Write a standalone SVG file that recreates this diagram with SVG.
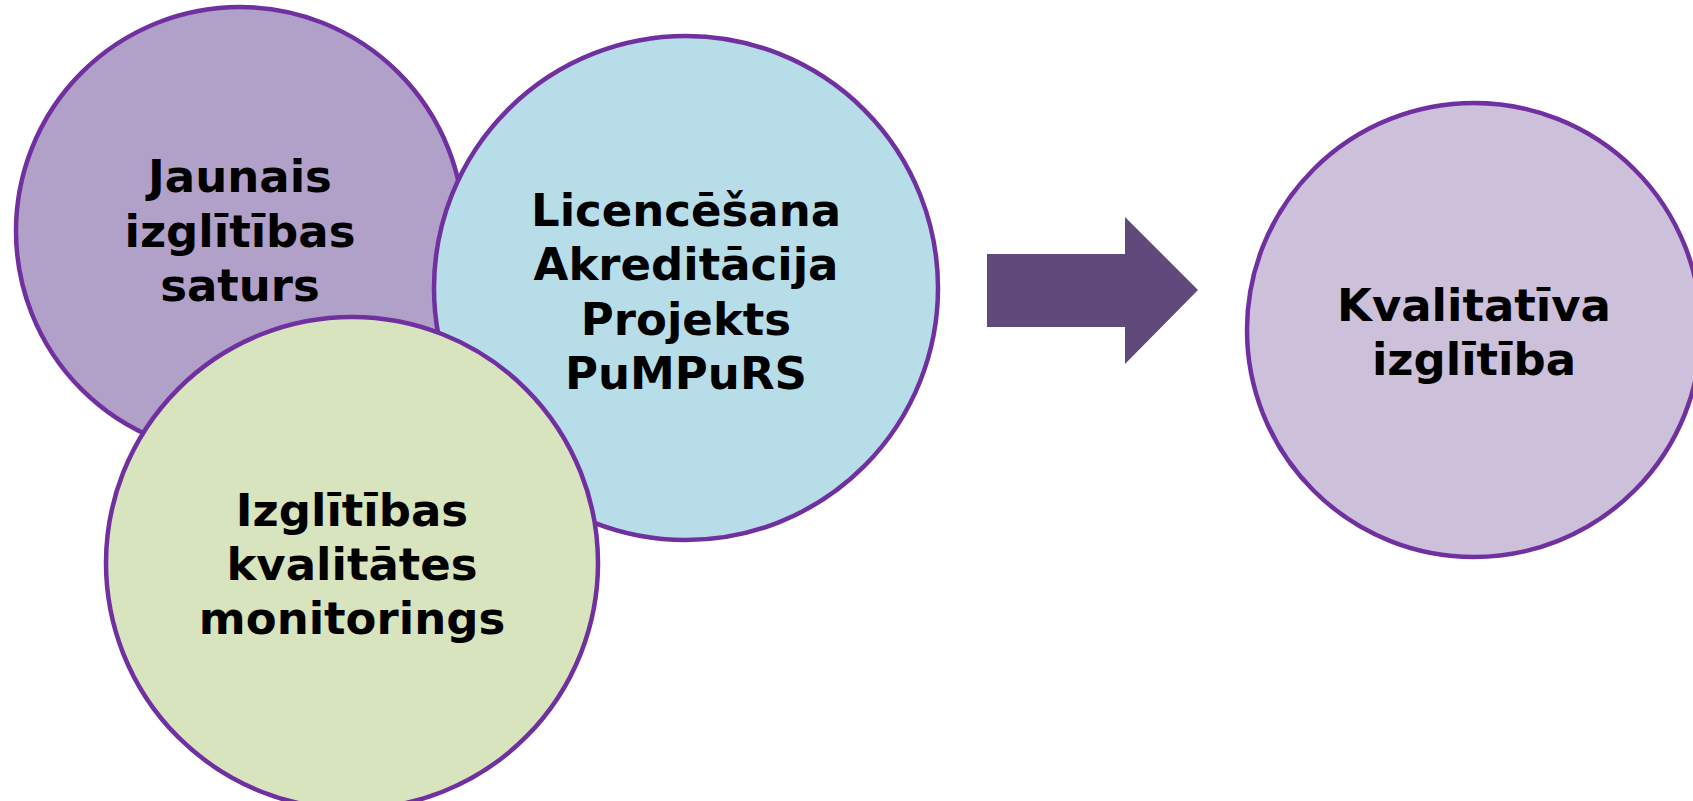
<svg xmlns="http://www.w3.org/2000/svg" width="1693" height="801" viewBox="0 0 1693 801">
<style>
.c{stroke:#7030a0;stroke-width:4.5}
.t{font-family:"DejaVu Sans",Verdana,sans-serif;font-weight:bold;font-size:45px;fill:#000;text-anchor:middle}
</style>
<rect width="1693" height="801" fill="#fff"/>
<g id="node-jaunais">
<circle class="c" cx="240" cy="231" r="224" fill="#b1a0c7"/>
<text class="t" x="240" y="192">Jaunais</text>
<text class="t" x="240" y="247">izglītības</text>
<text class="t" x="240" y="301">saturs</text>
</g>
<g id="node-licencesana">
<circle class="c" cx="686" cy="288" r="252" fill="#b7dde8"/>
<text class="t" x="686" y="226">Licencēšana</text>
<text class="t" x="686" y="280">Akreditācija</text>
<text class="t" x="686" y="335">Projekts</text>
<text class="t" x="686" y="389">PuMPuRS</text>
</g>
<g id="node-monitorings">
<circle class="c" cx="352" cy="563" r="246" fill="#d7e4bd"/>
<text class="t" x="352" y="526">Izglītības</text>
<text class="t" x="352" y="580">kvalitātes</text>
<text class="t" x="352" y="634">monitorings</text>
</g>
<g id="connectors">
<polygon points="987,254 1125,254 1125,217 1198,290 1125,364 1125,327 987,327" fill="#604a7b"/>
</g>
<g id="node-kvalitativa">
<circle class="c" cx="1474" cy="330" r="227" fill="#ccc0da"/>
<text class="t" x="1474" y="321">Kvalitatīva</text>
<text class="t" x="1474" y="375">izglītība</text>
</g>
</svg>
